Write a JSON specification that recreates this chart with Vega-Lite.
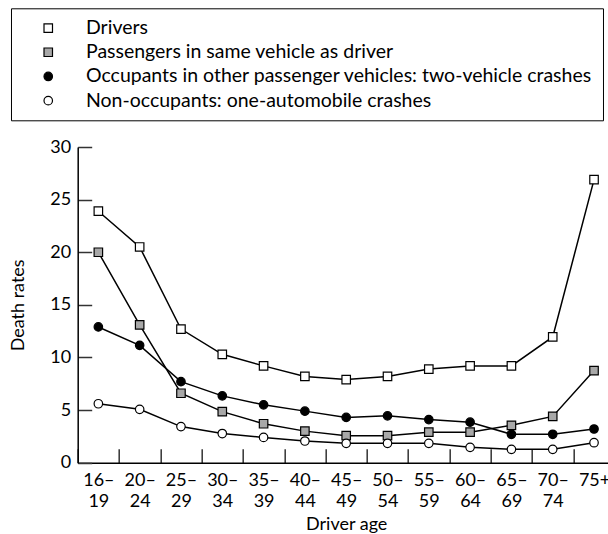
{
  "$schema": "https://vega.github.io/schema/vega-lite/v6.json",
  "width": 537,
  "height": 315.7,
  "autosize": {"type": "none"},
  "padding": {"left": 77.7, "top": 147, "right": 0, "bottom": 71.3},
  "config": {
    "view": {"stroke": null},
    "font": "Lato",
    "axis": {
      "grid": false,
      "domainColor": "black",
      "domainWidth": 1.5,
      "tickColor": "#333333",
      "tickWidth": 1.5,
      "labelColor": "black",
      "titleColor": "black",
      "labelFontSize": 18,
      "titleFontSize": 18,
      "titleFontWeight": "normal",
      "labelFont": "Lato",
      "titleFont": "Lato"
    }
  },
  "data": {
    "values": [
      {"age": "16–19", "series": "Drivers", "rate": 23.9},
      {"age": "20–24", "series": "Drivers", "rate": 20.5},
      {"age": "25–29", "series": "Drivers", "rate": 12.7},
      {"age": "30–34", "series": "Drivers", "rate": 10.3},
      {"age": "35–39", "series": "Drivers", "rate": 9.2},
      {"age": "40–44", "series": "Drivers", "rate": 8.2},
      {"age": "45–49", "series": "Drivers", "rate": 7.9},
      {"age": "50–54", "series": "Drivers", "rate": 8.2},
      {"age": "55–59", "series": "Drivers", "rate": 8.9},
      {"age": "60–64", "series": "Drivers", "rate": 9.2},
      {"age": "65–69", "series": "Drivers", "rate": 9.2},
      {"age": "70–74", "series": "Drivers", "rate": 11.95},
      {"age": "75+", "series": "Drivers", "rate": 26.9},
      {"age": "16–19", "series": "Passengers in same vehicle as driver", "rate": 20.0},
      {"age": "20–24", "series": "Passengers in same vehicle as driver", "rate": 13.1},
      {"age": "25–29", "series": "Passengers in same vehicle as driver", "rate": 6.6},
      {"age": "30–34", "series": "Passengers in same vehicle as driver", "rate": 4.85},
      {"age": "35–39", "series": "Passengers in same vehicle as driver", "rate": 3.7},
      {"age": "40–44", "series": "Passengers in same vehicle as driver", "rate": 3.0},
      {"age": "45–49", "series": "Passengers in same vehicle as driver", "rate": 2.57},
      {"age": "50–54", "series": "Passengers in same vehicle as driver", "rate": 2.57},
      {"age": "55–59", "series": "Passengers in same vehicle as driver", "rate": 2.9},
      {"age": "60–64", "series": "Passengers in same vehicle as driver", "rate": 2.9},
      {"age": "65–69", "series": "Passengers in same vehicle as driver", "rate": 3.55},
      {"age": "70–74", "series": "Passengers in same vehicle as driver", "rate": 4.4},
      {"age": "75+", "series": "Passengers in same vehicle as driver", "rate": 8.75},
      {"age": "16–19", "series": "Occupants in other passenger vehicles: two-vehicle crashes", "rate": 12.9},
      {"age": "20–24", "series": "Occupants in other passenger vehicles: two-vehicle crashes", "rate": 11.15},
      {"age": "25–29", "series": "Occupants in other passenger vehicles: two-vehicle crashes", "rate": 7.7},
      {"age": "30–34", "series": "Occupants in other passenger vehicles: two-vehicle crashes", "rate": 6.35},
      {"age": "35–39", "series": "Occupants in other passenger vehicles: two-vehicle crashes", "rate": 5.5},
      {"age": "40–44", "series": "Occupants in other passenger vehicles: two-vehicle crashes", "rate": 4.9},
      {"age": "45–49", "series": "Occupants in other passenger vehicles: two-vehicle crashes", "rate": 4.3},
      {"age": "50–54", "series": "Occupants in other passenger vehicles: two-vehicle crashes", "rate": 4.45},
      {"age": "55–59", "series": "Occupants in other passenger vehicles: two-vehicle crashes", "rate": 4.1},
      {"age": "60–64", "series": "Occupants in other passenger vehicles: two-vehicle crashes", "rate": 3.85},
      {"age": "65–69", "series": "Occupants in other passenger vehicles: two-vehicle crashes", "rate": 2.7},
      {"age": "70–74", "series": "Occupants in other passenger vehicles: two-vehicle crashes", "rate": 2.7},
      {"age": "75+", "series": "Occupants in other passenger vehicles: two-vehicle crashes", "rate": 3.2},
      {"age": "16–19", "series": "Non-occupants: one-automobile crashes", "rate": 5.6},
      {"age": "20–24", "series": "Non-occupants: one-automobile crashes", "rate": 5.07},
      {"age": "25–29", "series": "Non-occupants: one-automobile crashes", "rate": 3.43},
      {"age": "30–34", "series": "Non-occupants: one-automobile crashes", "rate": 2.77},
      {"age": "35–39", "series": "Non-occupants: one-automobile crashes", "rate": 2.4},
      {"age": "40–44", "series": "Non-occupants: one-automobile crashes", "rate": 2.06},
      {"age": "45–49", "series": "Non-occupants: one-automobile crashes", "rate": 1.84},
      {"age": "50–54", "series": "Non-occupants: one-automobile crashes", "rate": 1.84},
      {"age": "55–59", "series": "Non-occupants: one-automobile crashes", "rate": 1.84},
      {"age": "60–64", "series": "Non-occupants: one-automobile crashes", "rate": 1.46},
      {"age": "65–69", "series": "Non-occupants: one-automobile crashes", "rate": 1.27},
      {"age": "70–74", "series": "Non-occupants: one-automobile crashes", "rate": 1.27},
      {"age": "75+", "series": "Non-occupants: one-automobile crashes", "rate": 1.9}
    ]
  },
  "encoding": {
    "x": {
      "field": "age",
      "type": "ordinal",
      "sort": ["16–19","20–24","25–29","30–34","35–39","40–44","45–49","50–54","55–59","60–64","65–69","70–74","75+"],
      "scale": {"type": "band", "paddingInner": 0, "paddingOuter": 0},
      "axis": {
        "title": "Driver age",
        "tickBand": "extent",
        "tickSize": -14,
        "labelPadding": 23,
        "labelAngle": 0,
        "labelLineHeight": 21,
        "labelExpr": "length(datum.label) > 3 ? [slice(datum.label, 0, 3), slice(datum.label, 3)] : datum.label",
        "titlePadding": 5
      }
    },
    "y": {
      "field": "rate",
      "type": "quantitative",
      "scale": {"domain": [0, 30], "nice": false},
      "axis": {
        "title": "Death rates",
        "values": [0, 5, 10, 15, 20, 25, 30],
        "tickSize": -14,
        "labelPadding": 21,
        "titlePadding": 22
      }
    }
  },
  "layer": [
    {
      "mark": {"type": "line", "color": "black", "strokeWidth": 1.5},
      "encoding": {"detail": {"field": "series", "type": "nominal"}}
    },
    {
      "mark": {"type": "point", "filled": true, "stroke": "black", "strokeWidth": 1.2, "size": 72, "opacity": 1},
      "encoding": {
        "fill": {
          "field": "series",
          "type": "nominal",
          "scale": {
            "domain": ["Drivers", "Passengers in same vehicle as driver", "Occupants in other passenger vehicles: two-vehicle crashes", "Non-occupants: one-automobile crashes"],
            "range": ["white", "#a8a8a8", "black", "white"]
          },
          "legend": {
            "title": null,
            "orient": "none",
            "legendX": -66.7,
            "legendY": -138.7,
            "padding": 10,
            "strokeColor": "black",
            "symbolSize": 72,
            "symbolOffset": 17.5,
            "symbolStrokeColor": "black",
            "symbolStrokeWidth": 1.2,
            "symbolOpacity": 1,
            "labelOffset": 28,
            "labelFontSize": 19.5,
            "labelFont": "Lato",
            "labelColor": "black",
            "labelLimit": 800,
            "rowPadding": 3.2
          }
        },
        "shape": {
          "field": "series",
          "type": "nominal",
          "scale": {
            "domain": ["Drivers", "Passengers in same vehicle as driver", "Occupants in other passenger vehicles: two-vehicle crashes", "Non-occupants: one-automobile crashes"],
            "range": ["square", "square", "circle", "circle"]
          }
        }
      }
    }
  ]
}
